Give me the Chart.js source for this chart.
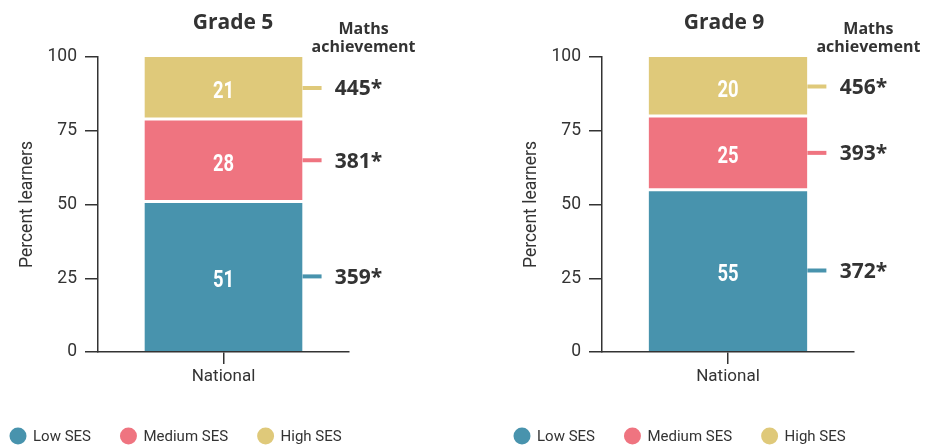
<!DOCTYPE html>
<html>
<head>
<meta charset="utf-8">
<script src="https://cdn.jsdelivr.net/npm/chart.js@4/dist/chart.umd.min.js"></script>
<style>
  html, body { margin: 0; padding: 0; background: #ffffff; }
  #wrap { position: relative; width: 925px; height: 445px; overflow: hidden; }
  #c5 { position: absolute; left: 0; top: 0; }
  #c9 { position: absolute; left: 504px; top: 0; }
</style>
</head>
<body>
<div id="wrap">
  <canvas id="c5" width="504" height="445"></canvas>
  <canvas id="c9" width="421" height="445"></canvas>
</div>
<script>
// ---- data ----
const categories = ['National'];
const seriesLabels = ['Low SES', 'Medium SES', 'High SES'];
const grade5Values = [51, 28, 21];
const grade9Values = [55, 25, 20];
const grade5Achievement = ['359*', '381*', '445*'];
const grade9Achievement = ['372*', '393*', '456*'];
const yTickValues = [0, 25, 50, 75, 100];
const panelTitles = ['Grade 5', 'Grade 9'];
const achievementHeader = ['Maths', 'achievement'];
const yAxisTitle = 'Percent learners';

const seriesColors = ['#4893ad', '#ef7480', '#dfc97a'];
const TEXT = '#333333';

const annotPlugin = {
  id: 'annot',
  afterDraw(chart, args, opts) {
    const ctx = chart.ctx;
    ctx.save();
    chart.data.datasets.forEach((ds, i) => {
      const meta = chart.getDatasetMeta(i);
      meta.data.forEach((bar, j) => {
        const p = bar.getProps(['x', 'y', 'base', 'width'], true);
        const cy = (p.y + p.base) / 2;
        // value label inside the segment
        ctx.save();
        ctx.fillStyle = '#ffffff';
        ctx.font = 'bold 23px Roboto';
        ctx.textAlign = 'center';
        ctx.textBaseline = 'alphabetic';
        ctx.translate(p.x, cy + 10.5);
        ctx.scale(0.8, 1);
        ctx.fillText(String(ds.data[j]), 0, 0);
        ctx.restore();
        // achievement marker
        const right = p.x + p.width / 2;
        ctx.strokeStyle = ds.backgroundColor;
        ctx.lineWidth = 4;
        ctx.beginPath();
        ctx.moveTo(right, cy);
        ctx.lineTo(right + 19, cy);
        ctx.stroke();
        ctx.fillStyle = TEXT;
        ctx.font = 'bold 21px "Open Sans"';
        ctx.textAlign = 'center';
        ctx.textBaseline = 'alphabetic';
        ctx.fillText(opts.achievement[i], right + 56, cy + 7.5);
      });
    });
    // panel title
    ctx.fillStyle = TEXT;
    ctx.font = 'bold 21px "Open Sans"';
    ctx.textAlign = 'center';
    ctx.textBaseline = 'middle';
    ctx.fillText(opts.title, opts.titleX, 23);
    // achievement header
    const bar0 = chart.getDatasetMeta(0).data[0];
    const bp = bar0.getProps(['x', 'width'], true);
    const hx = bp.x + bp.width / 2 + 61;
    ctx.font = 'bold 16px "Open Sans"';
    ctx.fillText(achievementHeader[0], hx, 29);
    ctx.fillText(achievementHeader[1], hx, 47);
    // legend
    let cx = 18;
    const ly = 437;
    ctx.font = '15px Roboto';
    ctx.textAlign = 'left';
    ctx.textBaseline = 'middle';
    chart.data.datasets.forEach((ds) => {
      ctx.fillStyle = ds.backgroundColor;
      ctx.beginPath();
      ctx.arc(cx, ly - 1, 8.5, 0, Math.PI * 2);
      ctx.fill();
      ctx.fillStyle = TEXT;
      const tx = cx + 15;
      ctx.fillText(ds.label, tx, ly);
      cx = tx + ctx.measureText(ds.label).width + 37.5;
    });
    ctx.restore();
  }
};

function makeChart(id, values, achievement, title, titleX, rightPad) {
  const n = seriesLabels.length;
  return new Chart(document.getElementById(id), {
    type: 'bar',
    data: {
      labels: categories,
      datasets: seriesLabels.map((lab, i) => ({
        label: lab,
        data: [values[i]],
        backgroundColor: seriesColors[i],
        borderColor: '#ffffff',
        borderWidth: { top: i === n - 1 ? 0 : 1.5, bottom: i === 0 ? 0 : 1.5, left: 0, right: 0 },
        borderSkipped: false,
        barPercentage: 0.63,
        categoryPercentage: 1
      }))
    },
    options: {
      responsive: false,
      animation: false,
      layout: { padding: { left: 0, right: rightPad, top: 57, bottom: 0 } },
      plugins: {
        legend: { display: false },
        title: { display: false },
        tooltip: { enabled: false },
        annot: { achievement, title, titleX }
      },
      scales: {
        x: {
          stacked: true,
          grid: { display: true, offset: false, drawOnChartArea: false, drawTicks: true, tickLength: 12, color: TEXT, lineWidth: 1.5 },
          border: { display: true, color: TEXT, width: 1.5, z: 1 },
          ticks: { font: { family: 'Roboto', size: 17 }, color: TEXT, padding: 3 },
          afterFit: (s) => { s.height = 93; }
        },
        y: {
          stacked: true,
          min: 0,
          max: 100,
          afterBuildTicks: (s) => { s.ticks = yTickValues.map(v => ({ value: v })); },
          grid: { drawOnChartArea: false, drawTicks: true, tickLength: 13, color: TEXT, lineWidth: 1.5 },
          border: { display: true, color: TEXT, width: 1.5, z: 1 },
          ticks: { font: { family: 'Roboto', size: 17.5 }, color: TEXT, padding: 8 },
          title: { display: true, text: yAxisTitle, font: { family: 'Roboto', size: 17.5 }, color: TEXT, padding: { top: 17, bottom: 0 } },
          afterFit: (s) => { s.width = 98; }
        }
      }
    },
    plugins: [annotPlugin]
  });
}

makeChart('c5', grade5Values, grade5Achievement, panelTitles[0], 233, 155);
makeChart('c9', grade9Values, grade9Achievement, panelTitles[1], 220, 71);
</script>
</body>
</html>
